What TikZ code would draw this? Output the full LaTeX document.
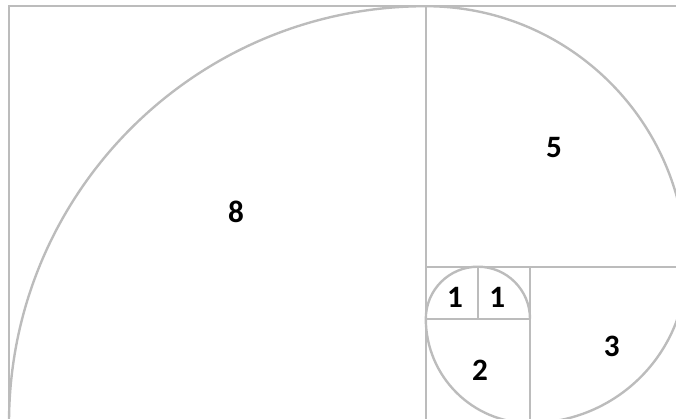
\documentclass[tikz,border=0pt]{standalone}
\usepackage{fontspec}
\setmainfont{Carlito}
\definecolor{linegray}{RGB}{188,188,188}
\tikzset{
  sq/.style={draw=linegray, line width=1.3pt},
  spiral/.style={draw=linegray, line width=1.3pt},
  lbl/.style={font=\fontsize{17}{17}\selectfont\bfseries, text=black, inner sep=0pt}
}
\begin{document}
\begin{tikzpicture}
\useasboundingbox (-0.173,0.077) rectangle (12.802,8.119);
\clip (-0.173,0.077) rectangle (12.802,8.119);
% squares
\draw[sq] (0,0) rectangle (8,8);
\draw[sq] (8,3) rectangle (13,8);
\draw[sq] (10,0) rectangle (13,3);
\draw[sq] (8,0) rectangle (10,2);
\draw[sq] (8,2) rectangle (9,3);
\draw[sq] (9,2) rectangle (10,3);
% spiral
\draw[spiral] (0,0) arc[start angle=180, end angle=90, radius=8]
  arc[start angle=90, end angle=0, radius=5]
  arc[start angle=0, end angle=-90, radius=3]
  arc[start angle=270, end angle=180, radius=2]
  arc[start angle=180, end angle=90, radius=1]
  arc[start angle=90, end angle=0, radius=1];
% labels
\node[lbl] (n8) at (4.357,4.05) {8};
\node[lbl] (n5) at (10.46,5.28) {5};
\node[lbl] (n3) at (11.57,1.478) {3};
\node[lbl] (n1a) at (8.56,2.42) {1};
\node[lbl] (n1b) at (9.37,2.42) {1};
\node[lbl] (n2) at (9.04,1.017) {2};
\end{tikzpicture}
\end{document}
